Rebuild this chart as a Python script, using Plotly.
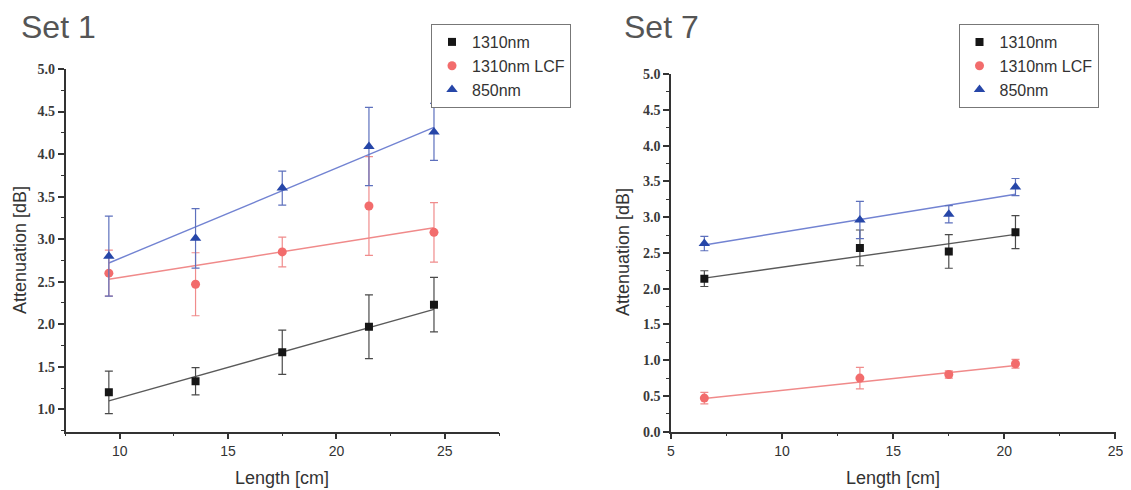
import numpy as np
import plotly.graph_objects as go

# ---------------- data ----------------
# Set 1
set1_length = [9.5, 13.5, 17.5, 21.5, 24.5]
set1_1310 = [1.20, 1.33, 1.67, 1.97, 2.23]
set1_1310_err = [0.25, 0.16, 0.26, 0.375, 0.32]
set1_lcf = [2.60, 2.47, 2.85, 3.39, 3.08]
set1_lcf_err = [0.27, 0.37, 0.175, 0.58, 0.35]
set1_850 = [2.80, 3.01, 3.60, 4.09, 4.26]
set1_850_err = [0.47, 0.35, 0.20, 0.46, 0.335]

# Set 7
set7_length = [6.5, 13.5, 17.5, 20.5]
set7_1310 = [2.14, 2.57, 2.52, 2.79]
set7_1310_err = [0.11, 0.25, 0.235, 0.23]
set7_lcf = [0.47, 0.75, 0.80, 0.95]
set7_lcf_err = [0.08, 0.15, 0.05, 0.06]
set7_850 = [2.63, 2.96, 3.04, 3.42]
set7_850_err = [0.10, 0.26, 0.12, 0.12]

series_names = ["1310nm", "1310nm LCF", "850nm"]
panel_titles = ["Set 1", "Set 7"]
x_title = "Length [cm]"
y_title = "Attenuation [dB]"

# ---------------- styles ----------------
W, H = 1131, 490
OFF = 8  # default page body margin
SANS = "Liberation Sans, Arial, sans-serif"
SERIF = "Liberation Serif, Times New Roman, serif"
marker_colors = ["#161616", "#f26c6c", "#2646a8"]
err_colors = ["#4a4a4a", "#f08c8c", "#5d70bd"]
line_colors = ["#5a5a5a", "#f08a8a", "#7283d2"]
symbols = ["square", "circle", "triangle-up"]
sizes = [8, 9, 10]


def px_x(p):
    return (p - OFF) / W


def px_y(p):
    return 1 - (p - OFF) / H


fig = go.Figure()

panels = [
    dict(x=set1_length, ys=[set1_1310, set1_lcf, set1_850],
         es=[set1_1310_err, set1_lcf_err, set1_850_err],
         xa="x", ya="y", legend="legend"),
    dict(x=set7_length, ys=[set7_1310, set7_lcf, set7_850],
         es=[set7_1310_err, set7_lcf_err, set7_850_err],
         xa="x2", ya="y2", legend="legend2"),
]

for p in panels:
    x = np.array(p["x"], dtype=float)
    for i in range(3):
        y = np.array(p["ys"][i], dtype=float)
        e = np.array(p["es"][i], dtype=float)
        # weighted linear fit
        slope, icpt = np.polyfit(x, y, 1, w=1.0 / e)
        xf = np.array([x.min(), x.max()])
        fig.add_trace(go.Scatter(
            x=xf, y=slope * xf + icpt, mode="lines",
            line=dict(color=line_colors[i], width=1.4),
            xaxis=p["xa"], yaxis=p["ya"], showlegend=False, hoverinfo="skip"))
    for i in range(3):
        fig.add_trace(go.Scatter(
            x=p["x"], y=p["ys"][i], mode="markers", name=series_names[i],
            marker=dict(symbol=symbols[i], size=sizes[i], color=marker_colors[i],
                        line=dict(width=0)),
            error_y=dict(type="data", array=p["es"][i], visible=True,
                         color=err_colors[i], thickness=1.2, width=4),
            xaxis=p["xa"], yaxis=p["ya"], legend=p["legend"],
            showlegend=True))

axis_common = dict(
    showline=True, linecolor="#333333", linewidth=1.5, mirror=False,
    ticks="outside", ticklen=6, tickwidth=1.5, tickcolor="#333333",
    showgrid=False, zeroline=False, automargin=False,
)
minor_common = dict(ticks="outside", ticklen=3, tickwidth=1.2, tickcolor="#333333")
xtickfont = dict(family=SANS, size=14, color="#333333")
ytickfont = dict(family=SERIF, size=14, color="#3a3a3a", weight="bold")

fig.update_layout(
    width=W, height=H, margin=dict(l=0, r=0, t=0, b=0, autoexpand=False),
    paper_bgcolor="white", plot_bgcolor="white",
    xaxis=dict(domain=[px_x(65.5), px_x(499)], range=[7.5, 27.5], anchor="y",
               tick0=0, dtick=5, tickfont=xtickfont,
               minor=dict(dtick=2.5, tick0=0, **minor_common), **axis_common),
    yaxis=dict(domain=[px_y(431.7), px_y(69)], range=[0.737, 5.0], anchor="x",
               tick0=0, dtick=0.5, tickformat=".1f", tickfont=ytickfont,
               minor=dict(dtick=0.25, tick0=0, **minor_common), **axis_common),
    xaxis2=dict(domain=[px_x(671), px_x(1115.5)], range=[5, 25.001], anchor="y2",
                tick0=0, dtick=5, tickfont=xtickfont,
                minor=dict(dtick=2.5, tick0=0, **minor_common), **axis_common),
    yaxis2=dict(domain=[px_y(431.7), px_y(74)], range=[0, 5.001], anchor="x2",
                tick0=0, dtick=0.5, tickformat=".1f", tickfont=ytickfont,
                minor=dict(dtick=0.25, tick0=0, **minor_common), **axis_common),
    legend=dict(x=px_x(431), y=px_y(24), xanchor="left", yanchor="top",
                bordercolor="#777777", borderwidth=1, bgcolor="white",
                font=dict(family=SANS, size=16, color="#333333"),
                tracegroupgap=0, itemsizing="trace"),
    legend2=dict(x=px_x(958.5), y=px_y(24), xanchor="left", yanchor="top",
                 bordercolor="#777777", borderwidth=1, bgcolor="white",
                 font=dict(family=SANS, size=16, color="#333333"),
                 tracegroupgap=0, itemsizing="trace"),
)

annotations = []
# panel titles
for tx, t in zip([20, 623], panel_titles):
    annotations.append(dict(text=t, x=px_x(tx), y=1.0, xref="paper", yref="paper",
                            xanchor="left", yanchor="top", showarrow=False, borderpad=0,
                            font=dict(family=SANS, size=32, color="#555555")))
# axis titles
for cx, cy in [(282, 478), (893, 478)]:
    annotations.append(dict(text=x_title, x=px_x(cx), y=px_y(cy), xref="paper", yref="paper",
                            xanchor="center", yanchor="middle", showarrow=False,
                            font=dict(family=SANS, size=18, color="#333333")))
for cx, cy in [(20, 250), (623, 252)]:
    annotations.append(dict(text=y_title, x=px_x(cx), y=px_y(cy), xref="paper", yref="paper",
                            xanchor="center", yanchor="middle", showarrow=False, textangle=-90,
                            font=dict(family=SANS, size=18, color="#333333")))
fig.update_layout(annotations=annotations)

fig.write_html("out.html")
